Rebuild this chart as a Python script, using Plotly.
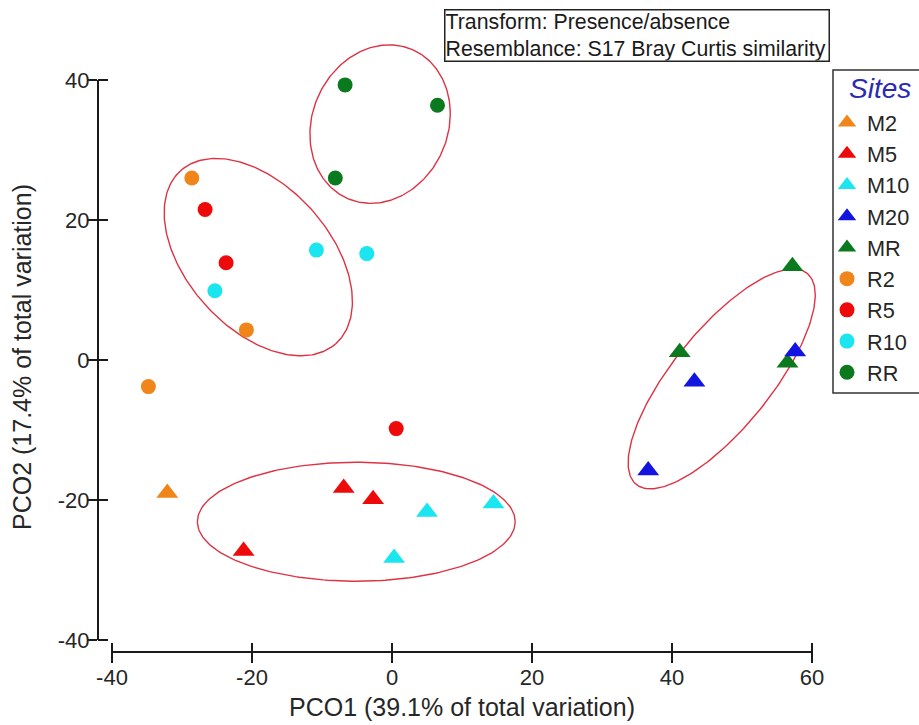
import numpy as np
import plotly.graph_objects as go

# ---- PCO scores (PCO1, PCO2) for each site ----
M2_PCO1 = [-32.1]
M2_PCO2 = [-19.0]
M5_PCO1 = [-6.9, -2.7, -21.2]
M5_PCO2 = [-18.3, -19.9, -27.3]
M10_PCO1 = [5.0, 14.5, 0.3]
M10_PCO2 = [-21.7, -20.5, -28.3]
M20_PCO1 = [57.6, 43.2, 36.6]
M20_PCO2 = [1.2, -3.1, -15.8]
MR_PCO1 = [57.2, 41.1, 56.5]
MR_PCO2 = [13.4, 1.1, -0.4]
R2_PCO1 = [-28.6, -20.8, -34.8]
R2_PCO2 = [26.0, 4.3, -3.8]
R5_PCO1 = [-26.7, -23.7, 0.6]
R5_PCO2 = [21.5, 13.9, -9.8]
R10_PCO1 = [-25.3, -10.8, -3.6]
R10_PCO2 = [9.9, 15.7, 15.2]
RR_PCO1 = [-6.7, 6.5, -8.1]
RR_PCO2 = [39.3, 36.4, 26.0]

SITE_NAMES = ["M2", "M5", "M10", "M20", "MR", "R2", "R5", "R10", "RR"]
SITE_PCO1 = [M2_PCO1, M5_PCO1, M10_PCO1, M20_PCO1, MR_PCO1,
             R2_PCO1, R5_PCO1, R10_PCO1, RR_PCO1]
SITE_PCO2 = [M2_PCO2, M5_PCO2, M10_PCO2, M20_PCO2, MR_PCO2,
             R2_PCO2, R5_PCO2, R10_PCO2, RR_PCO2]

# ---- group ellipses: centre, semi-axes, rotation (degrees) ----
ELL_CX = [-1.7, -19.1, -5.1, 47.1]
ELL_CY = [33.7, 14.7, -23.1, -2.7]
ELL_A = [11.6, 16.6, 22.7, 19.4]
ELL_B = [9.7, 10.2, 8.5, 7.0]
ELL_ANGLE = [66.5, -48.0, 0.0, 51.0]

X_TICKS = [-40, -20, 0, 20, 40, 60]
Y_TICKS = [-40, -20, 0, 20, 40]

# ---- styling ----
ORANGE, RED, CYAN, BLUE, GREEN = "#f08519", "#ee0a0a", "#1be6f0", "#1414e0", "#0b7a1f"
SITE_COLORS = [ORANGE, RED, CYAN, BLUE, GREEN, ORANGE, RED, CYAN, GREEN]
SITE_SYMBOLS = ["triangle-up"] * 5 + ["circle"] * 4
DRAW_ORDER = [0, 1, 2, 4, 3, 5, 6, 7, 8]  # MR under M20
FONT = "Liberation Sans, Arial, sans-serif"
TXT = "#262626"
AXC = "#1a1a1a"
W, H = 919, 725
X0, Y0, S = 392, 360, 7.0   # pixel of the origin and pixels per unit
XLINE, YLINE, TL = 652, 98, 10  # axis line pixels and half tick length

fig = go.Figure()

# ellipses
t = np.linspace(0, 2 * np.pi, 241)
for cx, cy, a, b, ang in zip(ELL_CX, ELL_CY, ELL_A, ELL_B, ELL_ANGLE):
    th = np.deg2rad(ang)
    ex = cx + a * np.cos(t) * np.cos(th) - b * np.sin(t) * np.sin(th)
    ey = cy + a * np.cos(t) * np.sin(th) + b * np.sin(t) * np.cos(th)
    fig.add_trace(go.Scatter(x=ex, y=ey, mode="lines", showlegend=False,
                             hoverinfo="skip",
                             line=dict(color="#de3344", width=1.4)))

# site markers
for i in DRAW_ORDER:
    tri = SITE_SYMBOLS[i] == "triangle-up"
    fig.add_trace(go.Scatter(
        x=SITE_PCO1[i], y=SITE_PCO2[i], mode="markers", name=SITE_NAMES[i],
        legendrank=i + 1,
        marker=dict(symbol=SITE_SYMBOLS[i], color=SITE_COLORS[i],
                    size=19 if tri else 15, line=dict(width=0))))

# empty traces hosting the axis frames: the lines with their outer tick halves,
# and a second pair shifted inward that adds the inner tick halves and labels
for k in (2, 3):
    fig.add_trace(go.Scatter(x=[], y=[], xaxis=f"x{k}", yaxis=f"y{k}",
                             showlegend=False, hoverinfo="skip"))

xdom = [(X0 - 40 * S) / W, (X0 + 60 * S) / W]
ydom = [1 - (Y0 + 40 * S) / H, 1 - (Y0 - 40 * S) / H]

common_x = dict(domain=xdom, range=[-40, 60], anchor="free",
                tickvals=X_TICKS, ticktext=[str(v) for v in X_TICKS],
                showgrid=False, zeroline=False, ticks="outside",
                ticklen=TL, tickwidth=1.5, tickcolor=AXC)
common_y = dict(domain=ydom, range=[-40, 40], anchor="free",
                tickvals=Y_TICKS, ticktext=[str(v) for v in Y_TICKS],
                showgrid=False, zeroline=False, ticks="outside",
                ticklen=TL, tickwidth=1.5, tickcolor=AXC)
tickfont = dict(size=22, color=TXT, family=FONT)

fig.update_layout(
    width=W, height=H,
    margin=dict(l=0, r=0, t=0, b=0, autoexpand=False),
    paper_bgcolor="white", plot_bgcolor="rgba(0,0,0,0)",
    font=dict(family=FONT, color=TXT),
    xaxis=dict(domain=[0, 1], range=[-X0 / S, (W - X0) / S], visible=False),
    yaxis=dict(domain=[0, 1], range=[-(H - Y0) / S, Y0 / S], visible=False),
    xaxis2=dict(**common_x, position=1 - XLINE / H, showline=True, linecolor=AXC,
                linewidth=1.5, showticklabels=False),
    yaxis2=dict(**common_y, position=YLINE / W, showline=True, linecolor=AXC,
                linewidth=1.5, showticklabels=False),
    xaxis3=dict(**common_x, position=1 - (XLINE - TL) / H, showline=False,
                showticklabels=True, tickfont=tickfont, ticklabelstandoff=6),
    yaxis3=dict(**common_y, position=(YLINE + TL) / W, showline=False,
                showticklabels=True, tickfont=tickfont, ticklabelstandoff=4),
    legend=dict(
        x=833 / W, y=1 - 102 / H, xanchor="left", yanchor="top",
        bgcolor="rgba(0,0,0,0)", borderwidth=0,
        font=dict(size=21.7, color=TXT, family=FONT),
        itemsizing="trace", tracegroupgap=0, indentation=-6,
    ),
    showlegend=True,
)

# legend frame, running off the right edge of the page
fig.add_shape(type="rect", xref="paper", yref="paper",
              x0=833 / W, x1=940 / W, y0=1 - 393 / H, y1=1 - 70 / H,
              line=dict(color="#333333", width=1.5), fillcolor="rgba(0,0,0,0)",
              layer="above")

annotations = [
    dict(text="Sites", xref="paper", yref="paper", x=880 / W, y=1 - 88 / H,
         xanchor="center", yanchor="middle", showarrow=False,
         font=dict(size=28, color="#2a2ab4", family=FONT, style="italic")),
    dict(text="Transform: Presence/absence<br>Resemblance: S17 Bray Curtis similarity",
         xref="paper", yref="paper", x=444 / W, y=1 - 9 / H,
         xanchor="left", yanchor="top", align="left", showarrow=False,
         width=383, height=50, bordercolor="#222222", borderwidth=1.5, borderpad=0,
         bgcolor="white", font=dict(size=21.3, color="#1a1a1a", family=FONT)),
    dict(text="PCO1 (39.1% of total variation)", xref="paper", yref="paper",
         x=462 / W, y=1 - 707 / H, xanchor="center", yanchor="middle",
         showarrow=False, font=dict(size=25, color=TXT, family=FONT)),
    dict(text="PCO2 (17.4% of total variation)", xref="paper", yref="paper",
         x=22 / W, y=1 - 357 / H, xanchor="center", yanchor="middle",
         textangle=-90, showarrow=False, font=dict(size=25, color=TXT, family=FONT)),
]
fig.update_layout(annotations=annotations)

fig.write_html("out.html")
